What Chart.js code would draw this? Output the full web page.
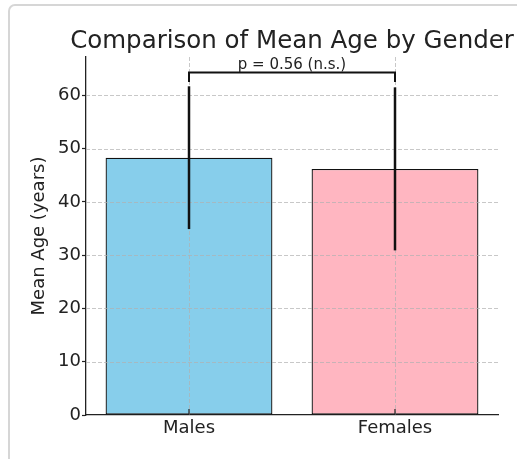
<!DOCTYPE html>
<html>
<head>
<meta charset="utf-8">
<script src="https://cdn.jsdelivr.net/npm/chart.js@4"></script>
<style>
  html, body { margin: 0; padding: 0; background: #ffffff; overflow: hidden; }
  #frame {
    position: absolute; left: 8px; top: 4px; width: 620px; height: 520px;
    border: 2px solid #d6d6d6; border-radius: 7px; box-sizing: border-box;
  }
  #wrap { position: absolute; left: 0; top: 0; width: 517px; height: 459px; }
</style>
</head>
<body>
<div id="frame"></div>
<div id="wrap"><canvas id="chart" width="517" height="459"></canvas></div>
<script>
// Mean age (years) by gender with ±1 SD error bars
const categories = ['Males', 'Females'];
const meanAge = [48.3, 46.2];
const sdAge = [13.4, 15.3];
const yTicks = [0, 10, 20, 30, 40, 50, 60];
const yMax = 67.2;

// significance bracket between the two groups
const bracketBase = 62.5;
const bracketTop = 64.3;
const pLabel = 'p = 0.56 (n.s.)';
const chartTitle = 'Comparison of Mean Age by Gender';

const FONT = 'DejaVu Sans';
const INK = '#222222';

// grid lines sit above the bars, error bars and bracket above the grid
const overlay = {
  id: 'overlay',
  afterDatasetsDraw(chart) {
    const {ctx, chartArea: a, scales: {x, y}} = chart;
    ctx.save();

    // dashed grid
    ctx.strokeStyle = 'rgba(176,176,176,0.7)';
    ctx.lineWidth = 1;
    ctx.setLineDash([4, 2]);
    yTicks.forEach(v => {
      if (v === 0) return;
      const py = Math.round(y.getPixelForValue(v)) + 0.5;
      ctx.beginPath(); ctx.moveTo(a.left, py); ctx.lineTo(a.right, py); ctx.stroke();
    });
    categories.forEach((c, i) => {
      const px = Math.round(x.getPixelForValue(i)) + 0.5;
      ctx.beginPath(); ctx.moveTo(px, a.top); ctx.lineTo(px, a.bottom); ctx.stroke();
    });
    ctx.setLineDash([]);

    // inward x tick marks
    ctx.strokeStyle = INK;
    ctx.lineWidth = 1.2;
    categories.forEach((c, i) => {
      const px = x.getPixelForValue(i);
      ctx.beginPath(); ctx.moveTo(px, a.bottom); ctx.lineTo(px, a.bottom - 6); ctx.stroke();
    });

    // error bars (no caps)
    ctx.strokeStyle = '#111111';
    ctx.lineWidth = 2.5;
    meanAge.forEach((m, i) => {
      const px = x.getPixelForValue(i);
      ctx.beginPath();
      ctx.moveTo(px, y.getPixelForValue(m - sdAge[i]));
      ctx.lineTo(px, y.getPixelForValue(m + sdAge[i]));
      ctx.stroke();
    });

    // bracket
    const x1 = x.getPixelForValue(0), x2 = x.getPixelForValue(1);
    const yb = y.getPixelForValue(bracketBase), yt = y.getPixelForValue(bracketTop);
    ctx.lineWidth = 2;
    ctx.lineJoin = 'miter';
    ctx.beginPath();
    ctx.moveTo(x1, yb); ctx.lineTo(x1, yt); ctx.lineTo(x2, yt); ctx.lineTo(x2, yb);
    ctx.stroke();

    // p-value label
    ctx.fillStyle = INK;
    ctx.font = '15px "' + FONT + '"';
    ctx.textAlign = 'center';
    ctx.textBaseline = 'alphabetic';
    ctx.fillText(pLabel, (x1 + x2) / 2, yt - 3);

    // title, centred over the plot area
    ctx.font = '24.5px "' + FONT + '"';
    ctx.textBaseline = 'alphabetic';
    ctx.fillText(chartTitle, (a.left + a.right) / 2, 48);

    ctx.restore();
  }
};

new Chart(document.getElementById('chart'), {
  type: 'bar',
  data: {
    labels: categories,
    datasets: [{
      data: meanAge,
      backgroundColor: ['#87CEEB', '#FFB6C1'],
      borderColor: '#111111',
      borderWidth: 1.3,
      borderSkipped: false,
      barPercentage: 0.81,
      categoryPercentage: 1.0
    }]
  },
  options: {
    responsive: false,
    animation: false,
    layout: { padding: { left: 0, right: 19, top: 57, bottom: 0 } },
    plugins: {
      legend: { display: false },
      tooltip: { enabled: false },
      title: { display: false }
    },
    scales: {
      x: {
        grid: { display: false, drawTicks: false },
        border: { display: true, color: INK, width: 1.3 },
        ticks: { color: INK, padding: 3, font: { family: FONT, size: 18 } },
        afterFit(scale) { scale.height = 44; }
      },
      y: {
        min: 0,
        max: yMax,
        grid: { display: true, drawOnChartArea: false, drawTicks: true, tickLength: 4, color: INK, tickWidth: 1.2 },
        border: { display: true, color: INK, width: 1.3 },
        ticks: { stepSize: 10, color: INK, padding: 1, font: { family: FONT, size: 18 } },
        title: {
          display: true,
          text: 'Mean Age (years)',
          color: INK,
          font: { family: FONT, size: 18, weight: 'normal', lineHeight: 1.2 },
          padding: { top: 29, bottom: 0 }
        },
        afterBuildTicks(scale) {
          scale.ticks = yTicks.map(v => ({ value: v }));
        },
        afterFit(scale) { scale.width = 86; }
      }
    }
  },
  plugins: [overlay]
});
</script>
</body>
</html>
